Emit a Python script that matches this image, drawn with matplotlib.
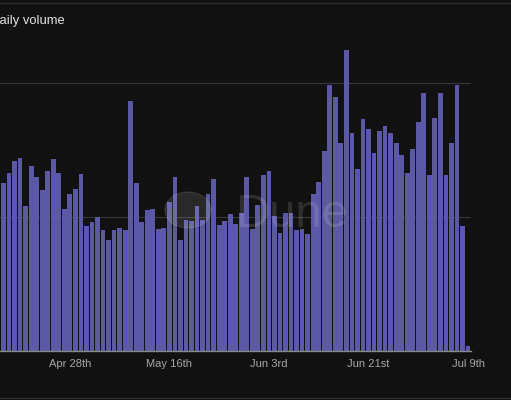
import matplotlib
matplotlib.use("Agg")
import matplotlib.pyplot as plt
import matplotlib.dates as mdates
from matplotlib.lines import Line2D
from matplotlib.patches import Circle
import pandas as pd

# daily volume, one bar per day (Apr 15 .. Jul 9); units = gridline steps
start_date = "2023-04-15"
end_date = "2023-07-09"
volume = [
    1.41, 1.25, 1.33, 1.42, 1.44, 1.08, 1.38, 1.30, 1.20, 1.34,
    1.43, 1.33, 1.06, 1.17, 1.21, 1.32, 0.93, 0.96, 1.00, 0.90,
    0.83, 0.90, 0.92, 0.90, 1.87, 1.25, 0.96, 1.05, 1.06, 0.91,
    0.92, 1.11, 1.30, 0.83, 0.98, 0.97, 1.08, 0.98, 1.17, 1.28,
    0.94, 0.97, 1.02, 0.95, 1.03, 1.30, 0.91, 1.09, 1.31, 1.34,
    1.01, 0.88, 1.03, 1.03, 0.90, 0.91, 0.87, 1.17, 1.26, 1.49,
    1.99, 1.90, 1.55, 2.25, 1.63, 1.36, 1.73, 1.66, 1.48, 1.64,
    1.68, 1.63, 1.55, 1.46, 1.33, 1.51, 1.71, 1.93, 1.31, 1.74,
    1.93, 1.31, 1.55, 1.99, 0.93, 0.03,
]
tick_dates = ["2023-04-28", "2023-05-16", "2023-06-03", "2023-06-21", "2023-07-09"]
tick_labels = ["Apr 28th", "May 16th", "Jun 3rd", "Jun 21st", "Jul 9th"]

bg = "#111111"
bar_color = "#5b59a6"

dates = pd.date_range(start_date, end_date)

fig = plt.figure(figsize=(5.11, 4.0), dpi=100, facecolor=bg)
W, H = 511, 400
base_px = 350.5
step_px = 133.65
ax = fig.add_axes([0, 1 - base_px / H, 471 / W, base_px / H])
ax.set_facecolor(bg)

ax.bar(dates, volume, width=0.86, color=bar_color, zorder=2)

d0 = mdates.date2num(pd.Timestamp(start_date))
ax.set_xlim(d0 + 0.367, d0 + 85.54)
ax.set_ylim(0, base_px / step_px)

ax.set_yticks([1, 2])
ax.grid(axis="y", color="#363636", linewidth=0.8, zorder=0)
ax.tick_params(axis="y", length=0, labelleft=False)

ax.set_xticks([mdates.date2num(pd.Timestamp(d)) for d in tick_dates])
ax.set_xticklabels(tick_labels, fontsize=8, color="#a8a8a8",
                   family=["Liberation Sans", "DejaVu Sans"])
ax.tick_params(axis="x", length=0, pad=6)

for s in ["top", "left", "right"]:
    ax.spines[s].set_visible(False)
ax.spines["bottom"].set_color("#8a8a8a")
ax.spines["bottom"].set_linewidth(1.0)
ax.spines["bottom"].set_zorder(3)

# Dune watermark
fig.patches.append(Circle((188 / W, 1 - 210 / H), 23 / W, transform=fig.transFigure,
                          color="white", alpha=0.1, zorder=5))
fig.text(235 / W, 1 - 227 / H, "Dune", fontsize=34, color="white", alpha=0.13,
         family=["Liberation Sans", "DejaVu Sans"], va="baseline", ha="left")

# title, cut at the left edge like the source screenshot
fig.text(-10 / W, 1 - 24 / H, "Daily volume", fontsize=9.4, color="#e2e2e2",
         family=["Liberation Sans", "DejaVu Sans"], va="baseline", ha="left")

# card borders
fig.lines.append(Line2D([0, 1], [1 - 2.7 / H] * 2, transform=fig.transFigure,
                        color="#2e2e2e", linewidth=1))
fig.lines.append(Line2D([0, 1], [1 - 398.3 / H] * 2, transform=fig.transFigure,
                        color="#2e2e2e", linewidth=1))

fig.savefig("out.png", dpi=100, facecolor=bg)
